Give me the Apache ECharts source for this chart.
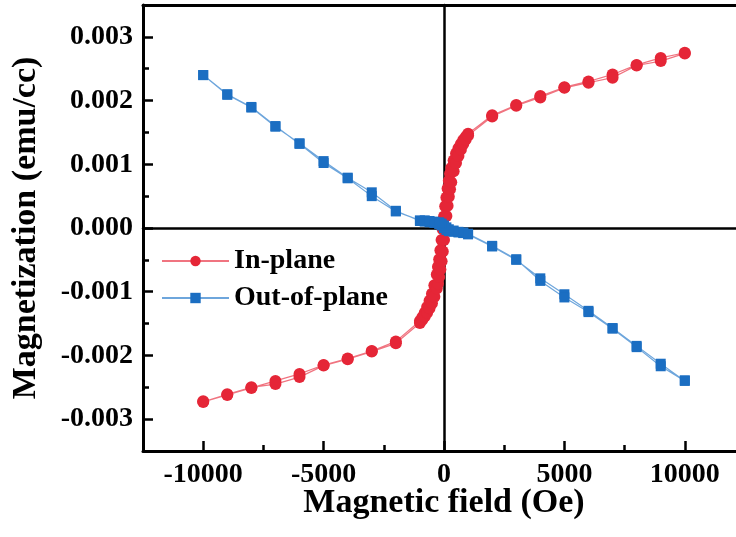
<!DOCTYPE html>
<html>
<head>
<meta charset="utf-8">
<script src="https://cdn.jsdelivr.net/npm/echarts@6/dist/echarts.min.js"></script>
<style>
  html, body { margin: 0; padding: 0; background: #fff; }
  #main { width: 736px; height: 537px; }
</style>
</head>
<body>
<div id="main"></div>
<script>
// In-plane loop, field going down from +10 kOe
const ipFieldDown = [10000, 9000, 8000, 7000, 6000, 5000, 4000, 3000, 2000, 1000,
  900, 800, 700, 600, 500, 400, 300, 250, 200, 150, 100, 50, 0,
  -50, -100, -150, -200, -250, -300, -400, -500, -600, -700, -800, -900, -1000,
  -2000, -3000, -4000, -5000, -6000, -7000, -8000, -9000, -10000];
const ipMagDown = [0.00275, 0.00267, 0.00256, 0.00241, 0.00230, 0.00221, 0.00207, 0.00193, 0.00177, 0.00148,
  0.00143, 0.00138, 0.00132, 0.00125, 0.00117, 0.00106, 0.00094, 0.00085, 0.00074, 0.00062, 0.00048, 0.00034, 0.00018,
  -0.00002, -0.00019, -0.00035, -0.00049, -0.00061, -0.00073, -0.00090, -0.00103, -0.00114, -0.00124, -0.00133, -0.00140, -0.00146,
  -0.00178, -0.00193, -0.00205, -0.00215, -0.00229, -0.00240, -0.00251, -0.00262, -0.00273];
// In-plane loop, field going back up
const ipFieldUp = [-10000, -9000, -8000, -7000, -6000, -5000, -4000, -3000, -2000, -1000,
  -900, -800, -700, -600, -500, -400, -300, -250, -200, -150, -100, -50, 0,
  50, 100, 150, 200, 250, 300, 400, 500, 600, 700, 800, 900, 1000,
  2000, 3000, 4000, 5000, 6000, 7000, 8000, 9000, 10000];
const ipMagUp = [-0.00272, -0.00261, -0.00250, -0.00245, -0.00234, -0.00216, -0.00206, -0.00194, -0.00181, -0.00149,
  -0.00144, -0.00139, -0.00133, -0.00126, -0.00118, -0.00108, -0.00095, -0.00087, -0.00077, -0.00065, -0.00052, -0.00037, -0.00019,
  0.00001, 0.00019, 0.00035, 0.00049, 0.00061, 0.00072, 0.00089, 0.00102, 0.00113, 0.00123, 0.00132, 0.00139, 0.00145,
  0.00175, 0.00192, 0.00205, 0.00220, 0.00228, 0.00236, 0.00255, 0.00262, 0.00274];

// Out-of-plane loop
const opFieldUp = [-10000, -9000, -8000, -7000, -6000, -5000, -4000, -3000, -2000, -1000,
  -800, -600, -400, -200, -100, 0, 100, 200, 400, 600, 800, 1000,
  2000, 3000, 4000, 5000, 6000, 7000, 8000, 9000, 10000];
const opMagUp = [0.00240, 0.00209, 0.00189, 0.00159, 0.00133, 0.00105, 0.00079, 0.00056, 0.00027, 0.00011,
  0.00010, 0.00009, 0.00008, 0.00006, 0.00004, 0.00000, -0.00003, -0.00005, -0.00006, -0.00007, -0.00008, -0.00010,
  -0.00029, -0.00050, -0.00079, -0.00104, -0.00130, -0.00157, -0.00185, -0.00213, -0.00240];
const opFieldDown = [10000, 9000, 8000, 7000, 6000, 5000, 4000, 3000, 2000, 1000,
  800, 600, 400, 200, 100, 0, -100, -200, -400, -600, -800, -1000,
  -2000, -3000, -4000, -5000, -6000, -7000, -8000, -9000, -10000];
const opMagDown = [-0.00239, -0.00217, -0.00187, -0.00158, -0.00132, -0.00109, -0.00083, -0.00049, -0.00028, -0.00009,
  -0.00007, -0.00006, -0.00004, -0.00002, 0.00001, 0.00004, 0.00007, 0.00009, 0.00010, 0.00011, 0.00012, 0.00012,
  0.00026, 0.00050, 0.00078, 0.00102, 0.00132, 0.00160, 0.00190, 0.00210, 0.00240];

const xMajorTicks = [-10000, -5000, 0, 5000, 10000];
const xMinorTicks = [-7500, -2500, 2500, 7500];
const yMajorTicks = [-0.003, -0.002, -0.001, 0, 0.001, 0.002, 0.003];
const yMinorTicks = [-0.0025, -0.0015, -0.0005, 0.0005, 0.0015, 0.0025];

const seriesNames = ['In-plane', 'Out-of-plane'];

function pairs(xs, ys) {
  return xs.map((x, i) => [x, ys[i]]);
}

const font = 'Liberation Serif';
const xMin = -12500, xMax = 12500, yMin = -0.0035, yMax = 0.0035;

const chart = echarts.init(document.getElementById('main'));

const bare = {
  axisTick: { show: false },
  axisLabel: { show: false },
  splitLine: { show: false }
};

const option = {
  animation: false,
  backgroundColor: '#fff',
  grid: { left: 143, right: -9, top: 5, bottom: 86, outerBoundsMode: 'none', containLabel: false },
  legend: {
    orient: 'vertical',
    left: 156,
    top: 242,
    itemWidth: 67,
    itemHeight: 13,
    itemGap: 9,
    data: seriesNames,
    textStyle: { fontFamily: font, fontWeight: 'bold', fontSize: 28, color: '#000' }
  },
  xAxis: [
    {
      type: 'value', min: xMin, max: xMax, position: 'bottom',
      name: 'Magnetic field (Oe)', nameLocation: 'middle', nameGap: 35, nameMoveOverlap: false,
      nameTextStyle: { fontFamily: font, fontWeight: 'bold', fontSize: 34, color: '#000' },
      axisLine: { onZero: false, lineStyle: { color: '#000', width: 3 } },
      axisTick: { inside: true, length: 10, customValues: xMajorTicks, lineStyle: { color: '#000', width: 2.5 } },
      axisLabel: {
        customValues: xMajorTicks, margin: 10, fontFamily: font, fontWeight: 'bold', fontSize: 28, color: '#000',
        formatter: v => String(v)
      },
      splitLine: { show: false }
    },
    {
      type: 'value', min: xMin, max: xMax, position: 'bottom',
      axisLine: { show: false, onZero: false },
      axisTick: { inside: true, length: 6, customValues: xMinorTicks, lineStyle: { color: '#000', width: 2.5 } },
      axisLabel: { show: false },
      splitLine: { show: false }
    },
    Object.assign({
      type: 'value', min: xMin, max: xMax, position: 'top',
      axisLine: { onZero: false, lineStyle: { color: '#000', width: 3 } }
    }, bare),
    Object.assign({
      type: 'value', min: xMin, max: xMax, position: 'bottom',
      axisLine: { onZero: true, onZeroAxisIndex: 0, lineStyle: { color: '#000', width: 2.5 } }
    }, bare)
  ],
  yAxis: [
    {
      type: 'value', min: yMin, max: yMax, position: 'left',
      name: 'Magnetization (emu/cc)', nameLocation: 'middle', nameGap: 100,
      nameTextStyle: { fontFamily: font, fontWeight: 'bold', fontSize: 34, color: '#000' },
      axisLine: { onZero: false, lineStyle: { color: '#000', width: 3 } },
      axisTick: { inside: true, length: 10, customValues: yMajorTicks, lineStyle: { color: '#000', width: 2.5 } },
      axisLabel: {
        customValues: yMajorTicks, margin: 10, fontFamily: font, fontWeight: 'bold', fontSize: 28, color: '#000',
        formatter: v => v.toFixed(3)
      },
      splitLine: { show: false }
    },
    {
      type: 'value', min: yMin, max: yMax, position: 'left',
      axisLine: { show: false, onZero: false },
      axisTick: { inside: true, length: 6, customValues: yMinorTicks, lineStyle: { color: '#000', width: 2.5 } },
      axisLabel: { show: false },
      splitLine: { show: false }
    },
    Object.assign({
      type: 'value', min: yMin, max: yMax, position: 'left',
      axisLine: { onZero: true, onZeroAxisIndex: 0, lineStyle: { color: '#000', width: 2.5 } }
    }, bare)
  ],
  series: [
    {
      name: seriesNames[0],
      type: 'line',
      xAxisIndex: 0, yAxisIndex: 0,
      data: pairs(ipFieldDown, ipMagDown).concat(pairs(ipFieldUp, ipMagUp)),
      symbol: 'circle',
      symbolSize: 12,
      itemStyle: { color: '#e52637' },
      lineStyle: { color: '#f07480', width: 1.2 }
    },
    {
      name: seriesNames[1],
      type: 'line',
      xAxisIndex: 0, yAxisIndex: 0,
      data: pairs(opFieldUp, opMagUp).concat(pairs(opFieldDown, opMagDown)),
      symbol: 'rect',
      symbolSize: 10,
      itemStyle: { color: '#1b6ec2' },
      lineStyle: { color: '#6ea6dc', width: 1.2 }
    }
  ]
};

chart.setOption(option);
</script>
</body>
</html>
